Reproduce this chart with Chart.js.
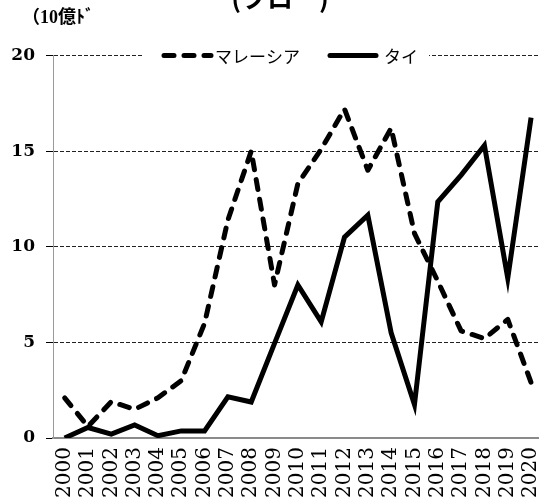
<!DOCTYPE html>
<html lang="ja">
<head>
<meta charset="utf-8">
<script src="https://cdn.jsdelivr.net/npm/chart.js@4.4.1/dist/chart.umd.min.js"></script>
<style>
  html, body { margin: 0; padding: 0; background: #fff; }
  #wrap { width: 539px; height: 498px; }
</style>
</head>
<body>
<div id="wrap"><canvas id="c" width="539" height="498"></canvas></div>
<script>
// Yearly inflows (10億ドル)
const years = ['2000', '2001', '2002', '2003', '2004', '2005', '2006', '2007', '2008', '2009',
               '2010', '2011', '2012', '2013', '2014', '2015', '2016', '2017', '2018', '2019', '2020'];
const malaysia = [2.1, 0.6, 1.9, 1.5, 2.1, 3.0, 6.0, 11.4, 15.0, 8.0,
                  13.3, 15.1, 17.2, 14.0, 16.2, 10.7, 8.2, 5.6, 5.2, 6.2, 2.9];
const thailand = [0.0, 0.55, 0.2, 0.68, 0.12, 0.37, 0.37, 2.15, 1.88, 4.95,
                  8.0, 6.07, 10.5, 11.65, 5.5, 1.75, 12.35, 13.75, 15.3, 8.35, 16.75];
const yTickValues = [0, 5, 10, 15, 20];
const seriesNames = ['マレーシア', 'タイ'];
const chartTitle = '(フロー)';
const unitLabel = '（10億ﾄﾞ';

// year index -> value points for the linear x scale
const toPoints = arr => arr.map((v, i) => ({ x: i, y: v }));

Chart.defaults.color = '#000';
Chart.defaults.font.family = '"DejaVu Serif", "Noto Sans CJK JP", serif';

// Title (partly above the canvas) and the unit note
const headerPlugin = {
  id: 'header',
  afterDraw(chart) {
    const ctx = chart.ctx;
    ctx.save();
    ctx.fillStyle = '#000';
    ctx.textAlign = 'center';
    ctx.textBaseline = 'alphabetic';
    ctx.font = 'bold 26px "Noto Sans CJK JP"';
    ctx.fillText(chartTitle, 280, 8);
    ctx.textAlign = 'left';
    ctx.textBaseline = 'middle';
    ctx.font = 'bold 18px "Liberation Serif", "Noto Sans CJK JP"';
    ctx.fillText(unitLabel, 22, 18);
    ctx.restore();
  }
};

// Legend sitting on the top grid line, using each dataset's own line style
const lineLegendPlugin = {
  id: 'lineLegend',
  afterDraw(chart) {
    const ctx = chart.ctx;
    const y = chart.scales.y.getPixelForValue(yTickValues[yTickValues.length - 1]);
    const slots = [{ x0: 164, x1: 211, tx: 215 }, { x0: 330, x1: 376, tx: 384 }];
    ctx.save();
    ctx.fillStyle = '#fff';
    ctx.fillRect(142, y - 8, 287, 16);
    chart.data.datasets.forEach((ds, i) => {
      const s = slots[i];
      ctx.strokeStyle = ds.borderColor;
      ctx.lineWidth = ds.borderWidth;
      ctx.lineCap = 'round';
      ctx.setLineDash(ds.borderDash || []);
      ctx.beginPath();
      ctx.moveTo(s.x0, y);
      ctx.lineTo(s.x1, y);
      ctx.stroke();
      ctx.setLineDash([]);
      ctx.fillStyle = '#000';
      ctx.font = '17px "Noto Sans CJK JP"';
      ctx.textAlign = 'left';
      ctx.textBaseline = 'middle';
      ctx.fillText(ds.label, s.tx, y + 1);
    });
    ctx.restore();
  }
};

new Chart(document.getElementById('c'), {
  type: 'line',
  data: {
    datasets: [
      {
        label: seriesNames[0],
        data: toPoints(malaysia),
        borderColor: '#000',
        borderWidth: 5,
        borderDash: [10, 10],
        borderCapStyle: 'round',
        borderJoinStyle: 'round',
        pointRadius: 0,
        tension: 0,
        fill: false
      },
      {
        label: seriesNames[1],
        data: toPoints(thailand),
        borderColor: '#000',
        borderWidth: 5,
        borderCapStyle: 'butt',
        borderJoinStyle: 'miter',
        pointRadius: 0,
        tension: 0,
        fill: false
      }
    ]
  },
  options: {
    responsive: false,
    animation: false,
    devicePixelRatio: 1,
    layout: { padding: { top: 55.5, right: 0, left: 0, bottom: 0 } },
    plugins: {
      legend: { display: false },
      title: { display: false },
      tooltip: { enabled: false }
    },
    scales: {
      x: {
        type: 'linear',
        min: -0.5,
        max: 20.34,
        afterBuildTicks(scale) { scale.ticks = years.map((_, i) => ({ value: i })); },
        grid: { display: false, drawTicks: false },
        border: { display: true, color: '#8a8a8a', width: 2 },
        ticks: {
          autoSkip: false,
          minRotation: 90,
          maxRotation: 90,
          padding: 9,
          color: '#000',
          font: { family: '"DejaVu Serif", serif', size: 20 },
          callback: value => years[value]
        },
        afterFit(scale) {
          scale.height = 60;
          scale.paddingLeft = 0;
          scale.paddingRight = 0;
        }
      },
      y: {
        min: 0,
        max: 20,
        afterBuildTicks(scale) { scale.ticks = yTickValues.map(v => ({ value: v })); },
        grid: {
          color: '#222',
          lineWidth: 1,
          drawTicks: true,
          tickLength: 7,
          tickColor: '#000',
          tickBorderDash: []
        },
        border: { display: true, color: '#9a9a9a', width: 1, dash: [4, 2] },
        ticks: {
          padding: 11,
          color: '#000',
          font: { family: '"DejaVu Serif", serif', size: 17, weight: 'bold' }
        },
        afterFit(scale) {
          scale.width = 53;
          scale.paddingTop = 0;
          scale.paddingBottom = 0;
        }
      }
    }
  },
  plugins: [headerPlugin, lineLegendPlugin]
});
</script>
</body>
</html>
